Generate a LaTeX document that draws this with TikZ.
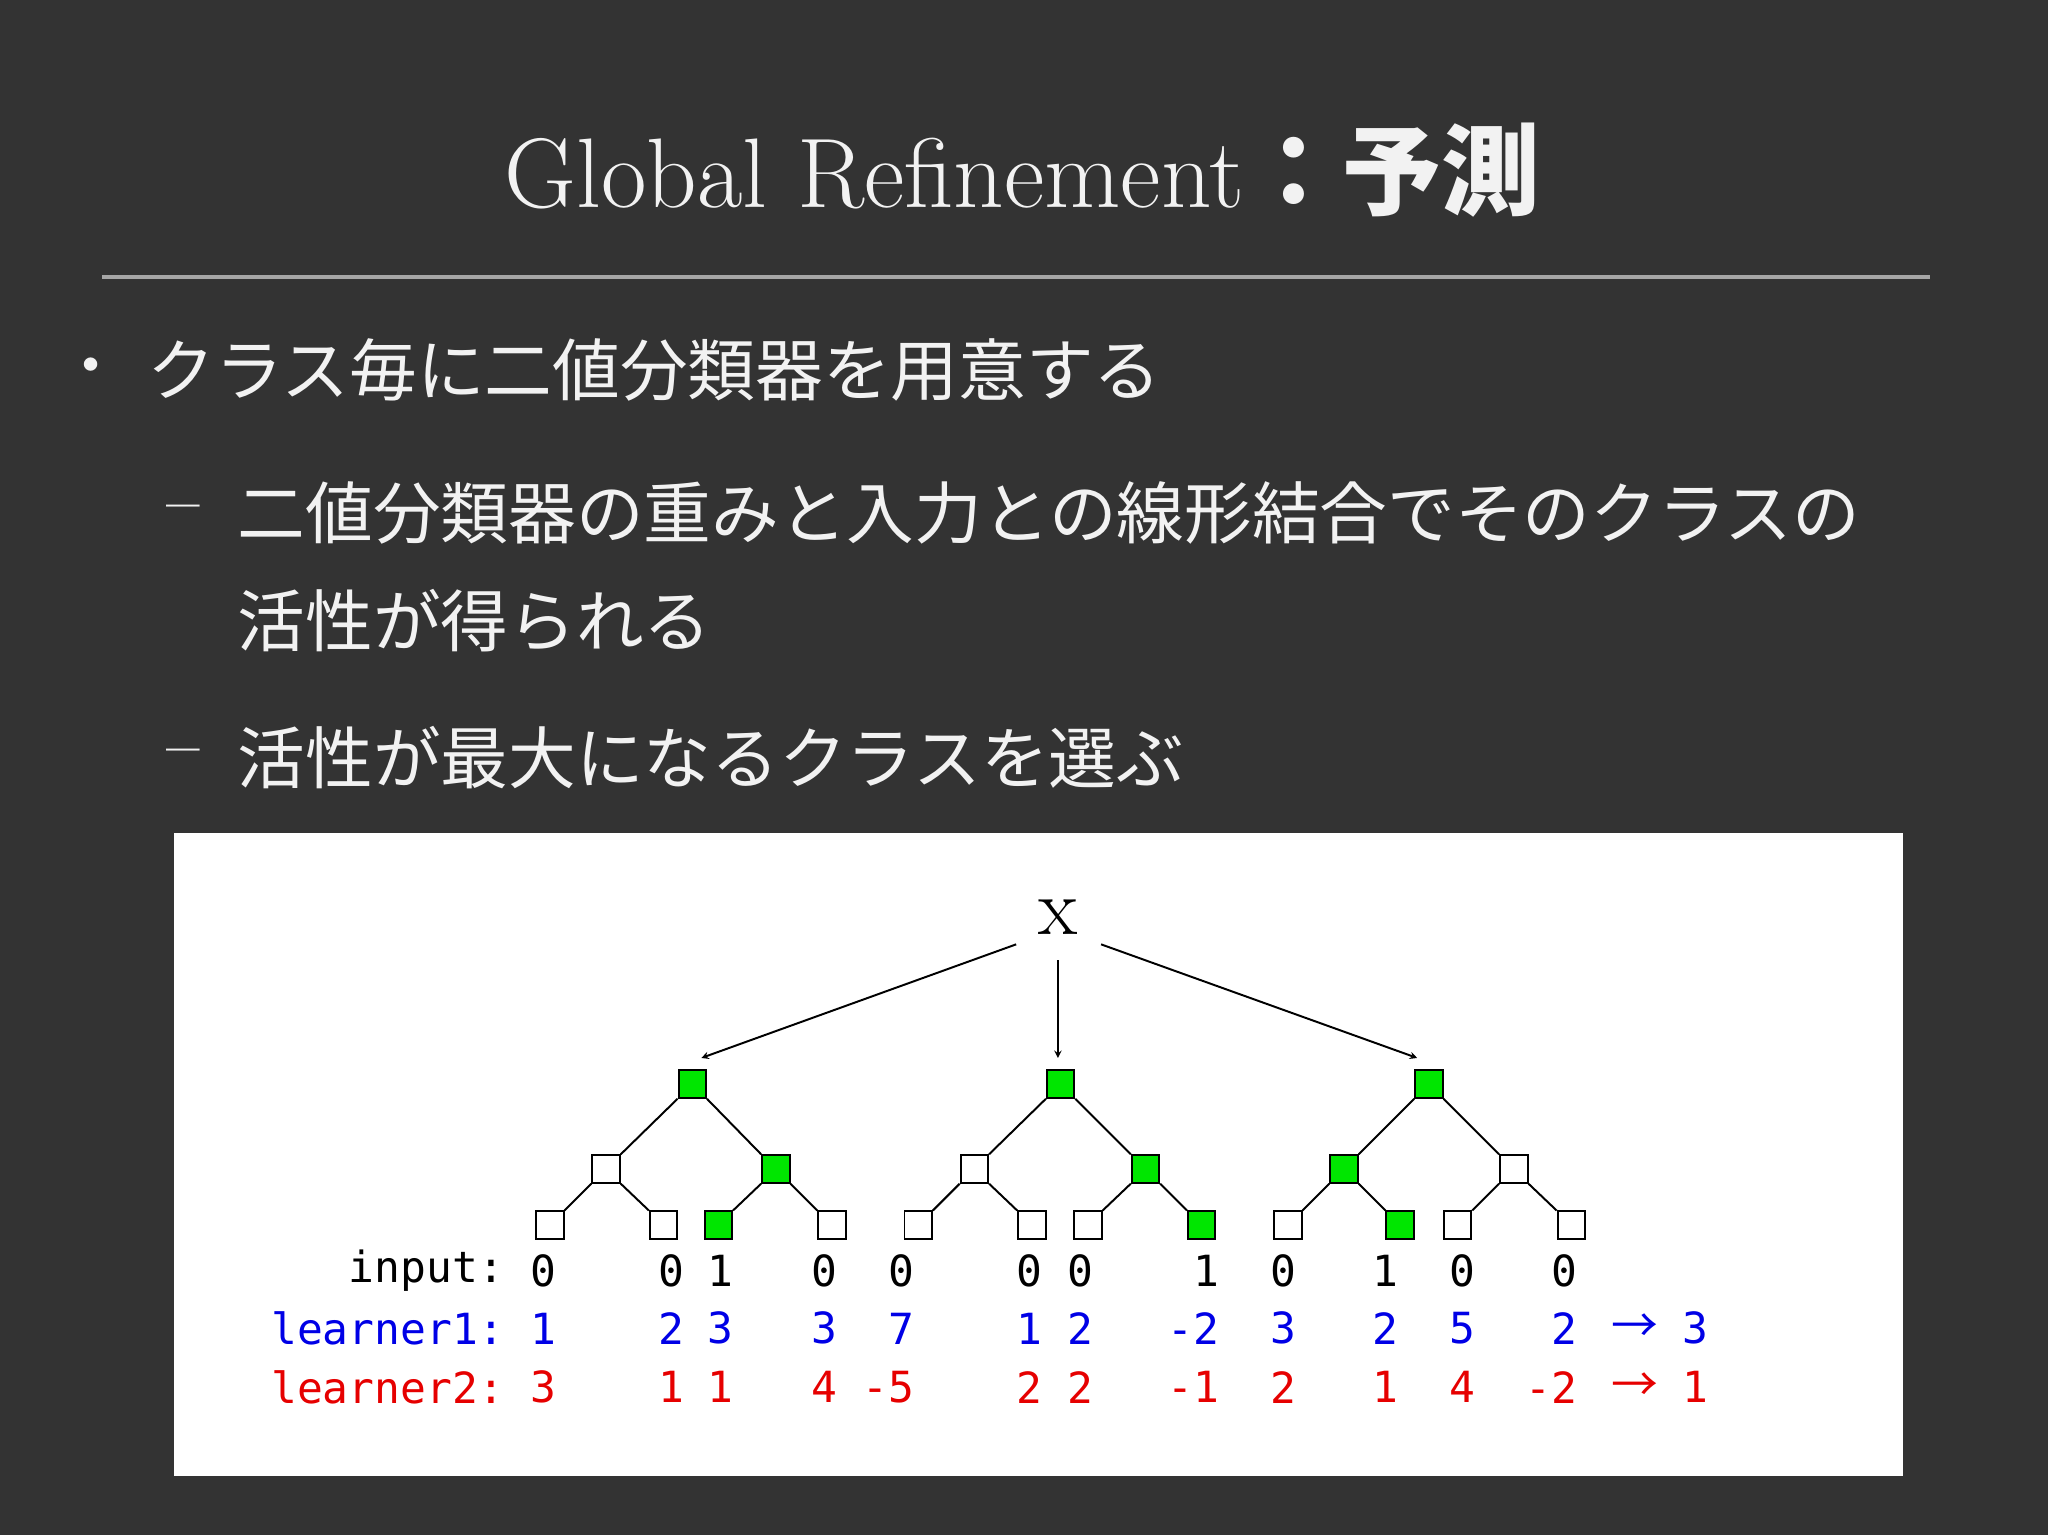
\documentclass[tikz,border=0pt]{standalone}
\usepackage{fontspec}
\newfontfamily\jp{Noto Sans CJK JP}
\newfontfamily\mono{DejaVu Sans Mono}
\definecolor{bg}{HTML}{333333}
\definecolor{fg}{HTML}{F2F2F2}
\definecolor{lb}{RGB}{0,0,230}
\definecolor{lr}{RGB}{230,0,0}
\definecolor{gn}{HTML}{00E600}
\begin{document}
\begin{tikzpicture}[x=1bp,y=-1bp,
  sq/.style={draw=black,line width=1.5bp,fill=white,minimum size=21bp,inner sep=0pt},
  gsq/.style={sq,fill=gn},
  edge/.style={line width=1.5bp},
  arr/.style={->,>=stealth,line width=1.5bp},
  jt/.style={text=fg,anchor=west,inner sep=0pt,font=\jp\fontsize{52}{56}\selectfont},
  num/.style={anchor=east,inner sep=0pt,font=\mono\fontsize{33}{40}\selectfont}]
\fill[bg] (0,0) rectangle (1568,1175);
\useasboundingbox (0,0) rectangle (1568,1175);
\node[text=fg,font=\fontsize{76}{80}\selectfont] (title) at (783,130) {Global Refinement{\jp\bfseries ：予測}};
\draw[gray!70,line width=2.5bp] (78,212) -- (1478,212);
\node[text=fg,font=\fontsize{46}{50}\selectfont] (b1) at (70,283) {\textbullet};
\node[jt] (t1) at (113,283) {クラス毎に二値分類器を用意する};
\node[text=fg,font=\bfseries\fontsize{46}{50}\selectfont] (d1) at (140,393) {--};
\node[jt] (t2) at (182,393) {二値分類器の重みと入力との線形結合でそのクラスの};
\node[jt] (t3) at (182,475) {活性が得られる};
\node[text=fg,font=\bfseries\fontsize{46}{50}\selectfont] (d2) at (140,580) {--};
\node[jt] (t4) at (182,580) {活性が最大になるクラスを選ぶ};
\fill[white] (133,638) rectangle (1457,1130);
\node[font=\fontsize{62}{62}\selectfont,inner sep=2bp] (x) at (810,702) {x};
% tree 1
\node[gsq] (r1) at (530,830) {};
\node[sq] (a1) at (464,895) {};
\node[gsq] (b1n) at (594,895) {};
\node[sq] (l11) at (421,938) {};
\node[sq] (l12) at (508,938) {};
\node[gsq] (l13) at (550,938) {};
\node[sq] (l14) at (637,938) {};
% tree 2
\node[gsq] (r2) at (812,830) {};
\node[sq] (a2) at (746,895) {};
\node[gsq] (b2) at (877,895) {};
\node[sq] (l21) at (703,938) {};
\node[sq] (l22) at (790,938) {};
\node[sq] (l23) at (833,938) {};
\node[gsq] (l24) at (920,938) {};
% tree 3
\node[gsq] (r3) at (1094,830) {};
\node[gsq] (a3) at (1029,895) {};
\node[sq] (b3) at (1159,895) {};
\node[sq] (l31) at (986,938) {};
\node[gsq] (l32) at (1072,938) {};
\node[sq] (l33) at (1116,938) {};
\node[sq] (l34) at (1203,938) {};
\draw[edge] (r1.south west)--(a1.north east) (r1.south east)--(b1n.north west)
 (a1.south west)--(l11.north east) (a1.south east)--(l12.north west)
 (b1n.south west)--(l13.north east) (b1n.south east)--(l14.north west);
\draw[edge] (r2.south west)--(a2.north east) (r2.south east)--(b2.north west)
 (a2.south west)--(l21.north east) (a2.south east)--(l22.north west)
 (b2.south west)--(l23.north east) (b2.south east)--(l24.north west);
\draw[edge] (r3.south west)--(a3.north east) (r3.south east)--(b3.north west)
 (a3.south west)--(l31.north east) (a3.south east)--(l32.north west)
 (b3.south west)--(l33.north east) (b3.south east)--(l34.north west);
\coordinate (e1) at (537,810); \coordinate (e2) at (810,810); \coordinate (e3) at (1085,810);
\coordinate (s1) at (778,723); \coordinate (s2) at (810,735); \coordinate (s3) at (843,723);
\draw[arr] (s1)--(e1); \draw[arr] (s2)--(e2); \draw[arr] (s3)--(e3);
% rows
\node[num] (lab0) at (386,973) {input:};
\node[num,text=lb] (lab1) at (386,1017) {learner1:};
\node[num,text=lr] (lab2) at (386,1062) {learner2:};
\foreach \x/\a/\b/\c [count=\i] in {416/0/1/3,514/0/2/1,552/1/3/1,631/0/3/4,690/0/7/-5,788/0/1/2,827/0/2/2,924/1/-2/-1,983/0/3/2,1061/1/2/1,1120/0/5/4,1198/0/2/-2}{
  \node[num] (in\i) at (\x+10,973) {\a};
  \node[num,text=lb] (p\i) at (\x+10,1017) {\b};
  \node[num,text=lr] (q\i) at (\x+10,1062) {\c};
}
\node[num,text=lb,font=\fontsize{36}{40}\selectfont\jp] (ar1) at (1270,1017) {→};
\node[num,text=lb] (res1) at (1308,1017) {3};
\node[num,text=lr,font=\fontsize{36}{40}\selectfont\jp] (ar2) at (1270,1062) {→};
\node[num,text=lr] (res2) at (1308,1062) {1};
\end{tikzpicture}
\end{document}
